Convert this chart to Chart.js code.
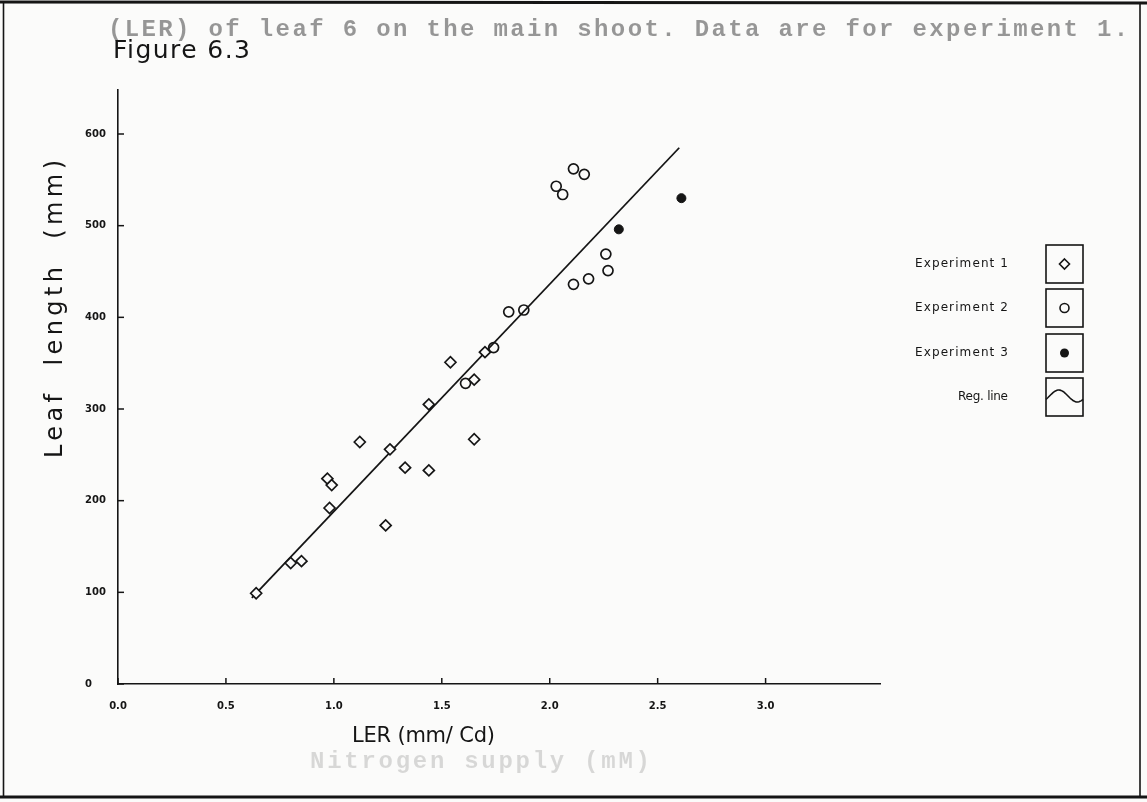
<!DOCTYPE html>
<html>
<head>
<meta charset="utf-8">
<script src="https://cdn.jsdelivr.net/npm/chart.js@4.4.1/dist/chart.umd.min.js"></script>
<style>
    html, body {margin: 0; padding: 0; background: #fbfbfa;}
    canvas {display: block;}
</style>
</head>
<body>
<canvas id="figureChart" width="1147" height="802"></canvas>
<script>
// tick labels
const xTicks = [0, 0.5, 1.0, 1.5, 2.0, 2.5, 3.0];
const yTicks = [0, 100, 200, 300, 400, 500, 600];

// LER (mm/Cd) vs leaf length (mm)
const exp1 = [[0.64, 99], [0.80, 132], [0.85, 134], [0.97, 224], [0.99, 217], [0.98, 192],
    [1.12, 264], [1.24, 173], [1.26, 256], [1.33, 236], [1.44, 233], [1.44, 305],
    [1.54, 351], [1.65, 267], [1.65, 332], [1.70, 362]];
const exp2 = [[1.61, 328], [1.74, 367], [1.81, 406], [1.88, 408], [2.11, 436], [2.18, 442],
    [2.26, 469], [2.27, 451], [2.03, 543], [2.06, 534], [2.11, 562], [2.16, 556]];
const exp3 = [[2.32, 496], [2.61, 530]];
const regLine = [[0.62, 94], [2.60, 585]];

const legendLabels = ['Experiment 1', 'Experiment 2', 'Experiment 3', 'Reg. line'];

const ink = '#151515';

function toPoints(arr) {
    return arr.map(p => ({x: p[0], y: p[1]}));
}

// spread a text to a given width, like the plotter lettering
function fitText(ctx, text, x, y, width) {
    ctx.letterSpacing = '0px';
    let w = ctx.measureText(text).width;
    let sp = (width - w) / Math.max(text.length - 1, 1);
    ctx.letterSpacing = sp.toFixed(2) + 'px';
    ctx.fillText(text, x, y);
    ctx.letterSpacing = '0px';
}

const paperPlugin = {
    id: 'paper',
    beforeDraw(chart) {
        let ctx = chart.ctx;
        ctx.save();
        ctx.fillStyle = '#fbfbfa';
        ctx.fillRect(0, 0, chart.width, chart.height);
        // text showing through from the page
        ctx.fillStyle = 'rgba(0,0,0,0.40)';
        ctx.font = 'bold 24px "Liberation Mono"';
        ctx.textBaseline = 'middle';
        ctx.textAlign = 'left';
        fitText(ctx, '(LER) of leaf 6 on the main shoot. Data are for experiment 1.', 108, 30, 1020);
        ctx.fillStyle = 'rgba(0,0,0,0.14)';
        fitText(ctx, 'Nitrogen supply (mM)', 310, 762, 340);
        ctx.restore();
    },
    afterDraw(chart) {
        let ctx = chart.ctx;
        let xs = chart.scales.x, ys = chart.scales.y;
        ctx.save();
        ctx.strokeStyle = ink;
        ctx.lineWidth = 1.5;
        // inward tick marks
        xTicks.forEach(v => {
            let px = xs.getPixelForValue(v);
            ctx.beginPath();
            ctx.moveTo(px, ys.bottom);
            ctx.lineTo(px, ys.bottom - 6);
            ctx.stroke();
        });
        yTicks.forEach(v => {
            let py = ys.getPixelForValue(v);
            ctx.beginPath();
            ctx.moveTo(xs.left, py);
            ctx.lineTo(xs.left + 6, py);
            ctx.stroke();
        });

        ctx.fillStyle = ink;
        ctx.textBaseline = 'middle';
        ctx.textAlign = 'left';
        ctx.font = '25px "DejaVu Sans"';
        fitText(ctx, 'Figure 6.3', 113, 51, 137);

        ctx.font = '21px "DejaVu Sans"';
        fitText(ctx, 'LER (mm/ Cd)', 352, 737, 143);

        ctx.save();
        ctx.translate(56, 458);
        ctx.rotate(-Math.PI / 2);
        ctx.font = '24px "DejaVu Sans"';
        fitText(ctx, 'Leaf  length  (mm)', 0, 0, 298);
        ctx.restore();

        // legend
        ctx.font = '12px "DejaVu Sans"';
        let boxTop = [245, 289, 334, 378];
        let widths = [93, 93, 93, 50];
        legendLabels.forEach((lab, i) => {
            let bx = 1046, by = boxTop[i], bw = 37, bh = 38;
            ctx.lineWidth = 1.6;
            ctx.strokeRect(bx, by, bw, bh);
            ctx.textAlign = 'left';
            fitText(ctx, lab, 1008 - widths[i], by + bh / 2, widths[i]);
            let cx = bx + bw / 2, cy = by + bh / 2;
            ctx.lineWidth = 1.6;
            ctx.beginPath();
            if (i === 0) {
                ctx.moveTo(cx, cy - 5);
                ctx.lineTo(cx + 5, cy);
                ctx.lineTo(cx, cy + 5);
                ctx.lineTo(cx - 5, cy);
                ctx.closePath();
                ctx.stroke();
            } else if (i === 1) {
                ctx.arc(cx, cy, 4.5, 0, Math.PI * 2);
                ctx.stroke();
            } else if (i === 2) {
                ctx.arc(cx, cy, 4.5, 0, Math.PI * 2);
                ctx.fill();
            } else {
                for (let t = 0; t <= bw; t++) {
                    let yy = cy - 1 - 6 * Math.sin((t / bw) * Math.PI * 2 - 0.6);
                    if (t === 0) ctx.moveTo(bx + t, yy); else ctx.lineTo(bx + t, yy);
                }
                ctx.stroke();
            }
        });

        // frame round the figure
        ctx.lineWidth = 3;
        ctx.beginPath();
        ctx.moveTo(0, 2);
        ctx.lineTo(1147, 3);
        ctx.moveTo(0, 797);
        ctx.lineTo(1147, 797);
        ctx.stroke();
        ctx.lineWidth = 1.6;
        ctx.beginPath();
        ctx.moveTo(3.5, 2);
        ctx.lineTo(3.5, 797);
        ctx.moveTo(1140, 2);
        ctx.lineTo(1140, 797);
        ctx.stroke();
        ctx.restore();
    }
};

let ctx = document.getElementById('figureChart');

new Chart(ctx, {
    type: 'scatter',
    data: {
        datasets: [
            {
                label: 'Experiment 1',
                data: toPoints(exp1),
                pointStyle: 'rectRot',
                pointRadius: 5.5,
                borderColor: ink,
                backgroundColor: '#fbfbfa',
                borderWidth: 1.7
            },
            {
                label: 'Experiment 2',
                data: toPoints(exp2),
                pointStyle: 'circle',
                pointRadius: 5,
                borderColor: ink,
                backgroundColor: 'rgba(0,0,0,0)',
                borderWidth: 1.7
            },
            {
                label: 'Experiment 3',
                data: toPoints(exp3),
                pointStyle: 'circle',
                pointRadius: 4.5,
                borderColor: ink,
                backgroundColor: ink,
                borderWidth: 1
            },
            {
                type: 'line',
                label: 'Reg. line',
                data: toPoints(regLine),
                borderColor: ink,
                borderWidth: 1.8,
                pointRadius: 0,
                fill: false,
                tension: 0,
                order: 5
            }
        ]
    },
    options: {
        responsive: false,
        animation: false,
        layout: {
            padding: {left: 85, top: 90, right: 267, bottom: 0}
        },
        scales: {
            x: {
                type: 'linear',
                min: 0,
                max: 3.53,
                grid: {display: false},
                border: {display: true, color: ink, width: 1.6},
                afterBuildTicks: axis => { axis.ticks = xTicks.map(v => ({value: v})); },
                afterFit: axis => { axis.height = 118; },
                ticks: {
                    padding: 8,
                    color: ink,
                    font: {family: 'DejaVu Sans', size: 10, weight: 'bold'},
                    callback: v => v.toFixed(1)
                }
            },
            y: {
                type: 'linear',
                min: 0,
                max: 648,
                grid: {display: false},
                border: {display: true, color: ink, width: 1.6},
                afterBuildTicks: axis => { axis.ticks = yTicks.map(v => ({value: v})); },
                afterFit: axis => { axis.width = 33; },
                ticks: {
                    crossAlign: 'far',
                    color: ink,
                    font: {family: 'DejaVu Sans', size: 10, weight: 'bold'}
                }
            }
        },
        plugins: {
            legend: {display: false},
            tooltip: {enabled: false},
            title: {display: false}
        }
    },
    plugins: [paperPlugin]
});
</script>
</body>
</html>
